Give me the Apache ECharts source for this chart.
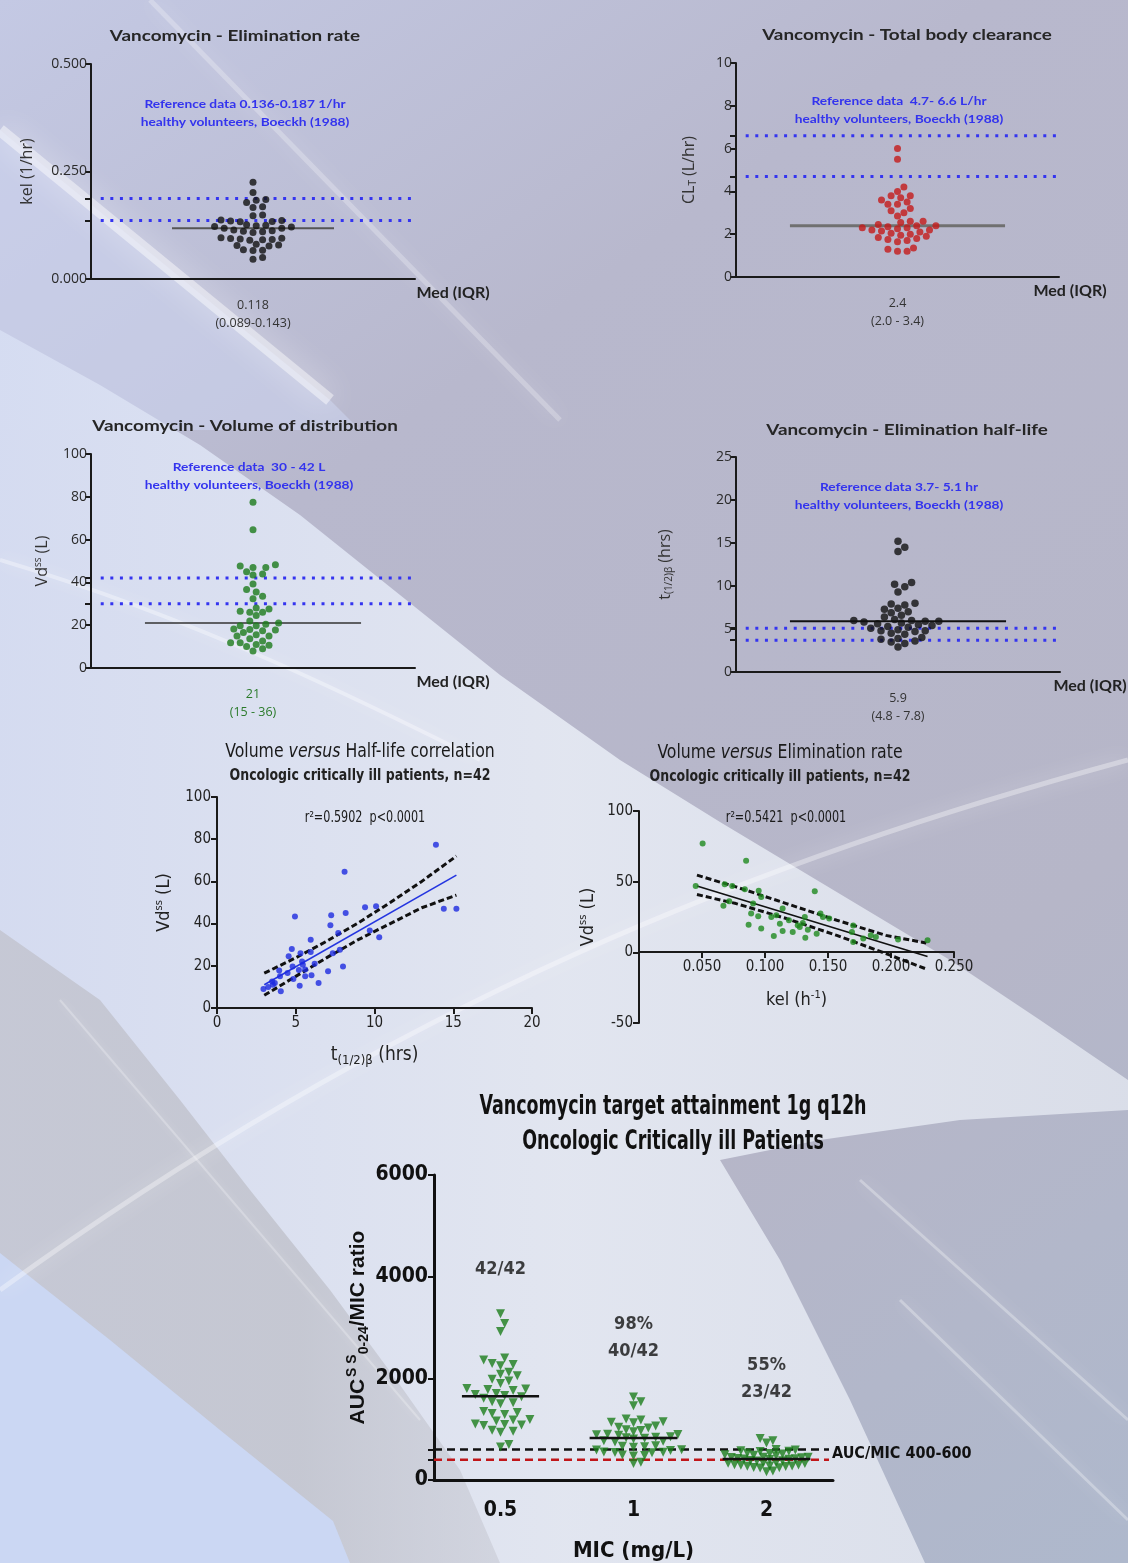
<!DOCTYPE html>
<html><head><meta charset="utf-8">
<script src="https://cdn.jsdelivr.net/npm/echarts@6/dist/echarts.min.js"></script>
<style>html,body{margin:0;padding:0;background:#b8b8cc;}#c{width:1128px;height:1563px;}</style>
</head><body><div id="c"></div>
<script>
// ---------------- DATA ----------------
// Panel 1: elimination rate kel (1/hr), n=42
const kelValues = [0.225,0.201,0.185,0.183,0.178,0.168,0.166,0.149,0.147,0.137,0.136,0.135,0.134,0.133,0.126,0.125,0.124,0.122,0.121,0.118,0.118,0.114,0.112,0.111,0.110,0.108,0.096,0.095,0.094,0.093,0.092,0.091,0.090,0.081,0.079,0.078,0.077,0.068,0.067,0.066,0.050,0.046];
// Panel 2: total body clearance (L/hr)
const clValues = [6.0,5.5,4.2,4.0,3.8,3.8,3.7,3.6,3.5,3.4,3.4,3.2,3.1,3.0,2.85,2.6,2.6,2.55,2.45,2.4,2.4,2.35,2.3,2.3,2.25,2.2,2.2,2.15,2.1,2.05,2.0,1.95,1.9,1.85,1.8,1.75,1.7,1.65,1.35,1.3,1.2,1.2];
// Panel 3: volume of distribution (L)
const vdValues = [77.4,64.6,48.2,47.7,47,47,45,43.9,43.4,39.2,36.7,35.5,33.5,32.4,28,27.6,26.5,26,26,24.5,22,21,20.5,19.7,19.7,18.2,18,17.8,17.4,16.6,15.5,15,15,13.7,12.6,11.8,11.8,11,10.6,10,9,7.9];
// Panel 4: elimination half-life (hrs)
const halfLifeValues = [15.2,14.5,14.0,10.4,10.2,9.9,9.3,8.0,7.9,7.8,7.4,7.3,7.0,6.9,6.6,6.4,6.1,6.0,6.0,5.9,5.9,5.8,5.7,5.6,5.5,5.4,5.3,5.2,5.1,4.9,4.8,4.8,4.7,4.5,4.4,4.0,3.9,3.8,3.6,3.5,3.3,2.9];
// reference ranges (healthy volunteers) and medians
const refKel = [0.136, 0.187];
const refCl = [4.7, 6.6];
const refVd = [30, 42];
const refHalf = [3.7, 5.1];
const medians = [0.118, 2.4, 21, 5.9];
const medianLabels = ['0.118\n(0.089-0.143)', '2.4\n(2.0 - 3.4)', '21\n(15 - 36)', '5.9\n(4.8 - 7.8)'];
// Panel 5: Vd vs half-life
const corrHalfX = [13.9,8.1,4.95,9.4,10.1,14.4,15.2,7.25,8.17,7.2,7.7,9.7,10.3,5.95,4.75,5.95,5.3,4.55,7.35,7.8,4.8,5.45,6.2,8.0,5.4,5.6,3.95,7.05,5.6,6.0,4.0,4.85,3.5,3.67,5.25,6.45,2.95,3.25,4.05,3.55,5.2,4.48];
const corrHalfVd = [77.4,64.6,43.4,47.7,48.2,47,47,43.9,45,39.2,35.5,36.7,33.5,32.4,28,26.5,26,24.5,26,27.6,19.7,20.5,21,19.7,22,18.2,17.8,17.4,15,15.5,15,13.7,12.6,11.8,10.6,11.8,9,10,7.9,11,18,16.6];
const halfFitX = [3, 15.2];
const halfFitY = [11, 63];
const halfBandX = [3, 5, 7, 9, 11, 13, 15.2];
const halfBandUpper = [16.5, 23.8, 31.8, 40.5, 50, 60, 72];
const halfBandLower = [6, 15, 24, 32.5, 40, 47.5, 53.5];
// Panel 6: Vd vs kel
const corrKelX = [0.0505,0.085,0.045,0.068,0.074,0.084,0.095,0.1395,0.097,0.0716,0.067,0.0906,0.089,0.0946,0.114,0.144,0.151,0.1316,0.087,0.097,0.1118,0.114,0.122,0.107,0.126,0.1276,0.134,0.141,0.132,0.17,0.169,0.17,0.178,0.184,0.188,0.2056,0.229,0.119,0.146,0.109,0.13,0.105];
const corrKelVd = [77,64.8,47,48.2,47,44.7,43.5,43.3,39.2,36.2,32.9,34.5,27.4,25.5,31,27.4,23.9,25,19.6,16.8,20.3,15.1,14.4,11.6,19.1,18,16,13.2,10.4,19,14.4,7.3,9.7,12,10.9,9,8.5,22.7,25,26.2,20.8,25];
const kelFitX = [0.046, 0.229];
const kelFitY = [47, -3];
const kelBandX = [0.046, 0.077, 0.117, 0.157, 0.196, 0.228];
const kelBandUpper = [54.6, 46.3, 34.5, 22.7, 12, 6.6];
const kelBandLower = [40.9, 34.5, 23.9, 12, -0.9, -11.8];
// Panel 7: AUC/MIC target attainment
const micCategories = ['0.5', '1', '2'];
const aucMic05 = [3270,3080,2920,2400,2360,2290,2270,2250,2120,2080,2050,1980,1950,1900,1800,1790,1780,1760,1700,1680,1660,1640,1610,1540,1520,1500,1350,1330,1310,1290,1190,1180,1160,1100,1090,1080,1070,980,960,940,700,650];
const aucMic1 = [1635,1540,1460,1200,1180,1145,1135,1125,1060,1040,1025,990,975,950,900,895,890,880,850,840,830,820,805,770,760,750,675,665,655,645,595,590,580,550,545,540,535,490,480,470,350,325];
const aucMic2 = [818,770,730,600,590,573,568,563,530,520,513,495,488,475,450,448,445,440,425,420,415,410,403,385,380,375,338,333,328,323,298,295,290,275,273,270,268,245,240,235,175,163];
const aucMedians = [1650, 825, 412];
const aucTargets = [400, 600];
const aucTicks = [0, 400, 600, 2000, 4000, 6000];
const attainLabels = ['42/42', '98%\n40/42', '55%\n23/42'];
const attainLabelY = [4150, 2800, 1990];

// ---------------- HELPERS ----------------
const F1 = "'Open Sans', Lato, sans-serif";
const FT = "Lato, 'Open Sans', sans-serif";
const NARROW = "'Liberation Sans Narrow','DejaVu Sans Condensed',sans-serif";
const ARIAL = "'Liberation Sans', Arial, sans-serif";

// beeswarm layout: offsets in x-axis units, computed from pixel scales
function swarm(values, pxPerY, pxPerX, diam, step, center) {
  const idx = values.map((v, i) => i).sort((a, b) => values[a] - values[b]);
  const placed = [];
  const out = new Array(values.length);
  for (const i of idx) {
    const py = values[i] * pxPerY;
    let off = 0;
    for (let n = 0; n < 400; n++) {
      const k = Math.ceil(n / 2) * (n % 2 === 1 ? 1 : -1);
      const cand = k * step;
      if (placed.every(p => (p[0] - cand) ** 2 + (p[1] - py) ** 2 >= diam * diam)) { off = cand; break; }
    }
    placed.push([off, py]);
    out[i] = [(center || 0) + off / pxPerX, values[i]];
  }
  return out;
}
const pair = (xs, ys) => xs.map((x, i) => [x, ys[i]]);

const axisCol = '#1a1a1a';
function swarmY(gi, min, max, interval, ref, name, gap, fmt) {
  const ticks = [];
  for (let v = min; v <= max + 1e-9; v += interval) ticks.push(+v.toFixed(6));
  return {
    gridIndex: gi, type: 'value', min, max, interval,
    axisLine: { show: true, onZero: false, lineStyle: { color: axisCol, width: 2 } },
    axisTick: { show: true, length: 6, lineStyle: { color: axisCol, width: 2 }, customValues: ticks.concat(ref) },
    axisLabel: { color: '#2a2a2a', fontSize: 14, fontFamily: F1, margin: 4, formatter: fmt, customValues: ticks },
    splitLine: { show: false },
    name, nameLocation: 'middle', nameGap: gap,
    nameTextStyle: { color: '#333', fontSize: 16, fontFamily: F1,
      rich: { n: { fontSize: 16, fontFamily: F1, color: '#333' },
              sup: { fontSize: 10, fontFamily: F1, color: '#333', padding: [0, 0, 8, 0] },
              sub: { fontSize: 10, fontFamily: F1, color: '#333', padding: [8, 0, 0, 0] } } }
  };
}
function swarmX(gi, label, labelColor, nameGap) {
  return [{
    gridIndex: gi, type: 'category', data: [label], boundaryGap: true,
    axisLine: { onZero: false, lineStyle: { color: axisCol, width: 2 } },
    axisTick: { alignWithLabel: true, length: 6, lineStyle: { color: axisCol, width: 2 } },
    axisLabel: { color: labelColor, fontSize: 12.5, lineHeight: 18, margin: 17, fontFamily: F1 },
    name: 'Med (IQR)', nameLocation: 'end', nameGap,
    nameTextStyle: { align: 'center', verticalAlign: 'top', padding: [6, 0, 0, 0], fontSize: 16, color: '#222', fontWeight: 'bold', fontFamily: FT }
  }, { gridIndex: gi, type: 'value', min: -1, max: 1, show: false }];
}
function refLines(xi, yi, vals) {
  return vals.map(v => ({
    type: 'line', xAxisIndex: xi, yAxisIndex: yi, symbol: 'none', silent: true, z: 3,
    data: [[-0.94, v], [0.99, v]],
    lineStyle: { color: '#3434f0', width: 3, type: [3, 6.6] }
  }));
}
function medLine(xi, yi, v, half, color, width) {
  return { type: 'line', xAxisIndex: xi, yAxisIndex: yi, symbol: 'none', silent: true, z: 4,
    data: [[-half, v], [half, v]], lineStyle: { color, width } };
}

// grid pixel geometry (layout)
const G = [
  { left: 91, top: 64, width: 324, height: 215 },
  { left: 736, top: 63, width: 323, height: 214 },
  { left: 91, top: 454, width: 324, height: 214 },
  { left: 736, top: 457, width: 324, height: 215 },
  { left: 217, top: 797, width: 315, height: 211 },
  { left: 639, top: 811, width: 315, height: 212 },
  { left: 434, top: 1175, width: 399, height: 312 }
];

const sw1 = swarm(kelValues, G[0].height / 0.5, G[0].width / 2, 7, 3.2);
const sw2 = swarm(clValues, G[1].height / 10, G[1].width / 2, 7, 3.2);
const sw3 = swarm(vdValues, G[2].height / 100, G[2].width / 2, 7, 3.2);
const sw4 = swarm(halfLifeValues, G[3].height / 25, G[3].width / 2, 7.5, 3.4);
const pxPerCat = G[6].width / 3, pxPerAuc = G[6].height / 6000;
const swA = swarm(aucMic05, pxPerAuc, pxPerCat, 8.5, 4.2, 0.5);
const swB = swarm(aucMic1, pxPerAuc, pxPerCat, 7.5, 3.7, 1.5);
const swC = swarm(aucMic2, pxPerAuc, pxPerCat, 6, 3.2, 2.5);

// ---------------- AXES ----------------
const vdName = { n: { fontSize: 18, fontFamily: NARROW, color: '#222' }, sup: { fontSize: 11, fontFamily: NARROW, color: '#222', padding: [0, 0, 10, 0] } };
const xAxes = [].concat(
  swarmX(0, medianLabels[0], '#333', 38),
  swarmX(1, medianLabels[1], '#333', 11),
  swarmX(2, medianLabels[2], '#2a7a2a', 38),
  swarmX(3, medianLabels[3], '#333', 30),
  [{ gridIndex: 4, type: 'value', min: 0, max: 20, interval: 5,
     axisLine: { onZero: false, lineStyle: { color: axisCol, width: 2 } },
     axisTick: { length: 6, lineStyle: { color: axisCol, width: 2 } },
     axisLabel: { color: '#222', fontSize: 15, fontFamily: NARROW, margin: 8 },
     splitLine: { show: false },
     name: '{n|t}{sub|(1/2)β}{n| (hrs)}', nameLocation: 'middle', nameGap: 36,
     nameTextStyle: { rich: { n: { fontSize: 19, fontFamily: NARROW, color: '#222' }, sub: { fontSize: 13, fontFamily: NARROW, color: '#222', padding: [10, 0, 0, 0] } } } },
   { gridIndex: 5, type: 'value', min: 0, max: 0.25, interval: 0.05, offset: -71,
     axisLine: { onZero: false, lineStyle: { color: axisCol, width: 2 } },
     axisTick: { length: 6, lineStyle: { color: axisCol, width: 2 } },
     axisLabel: { color: '#222', fontSize: 15, fontFamily: NARROW, margin: 8, formatter: v => v === 0 ? '' : v.toFixed(3) },
     splitLine: { show: false },
     name: '{n|kel (h}{sup|-1}{n|)}', nameLocation: 'middle', nameGap: 38,
     nameTextStyle: { rich: vdName } },
   { gridIndex: 6, type: 'category', data: micCategories, boundaryGap: true,
     axisLine: { onZero: false, lineStyle: { color: '#111', width: 3 } },
     axisTick: { alignWithLabel: true, length: 5, lineStyle: { color: '#111', width: 2 } },
     axisLabel: { color: '#111', fontSize: 21, fontWeight: 'bold', fontFamily: NARROW, margin: 20 },
     name: 'MIC (mg/L)', nameLocation: 'middle', nameGap: 60,
     nameTextStyle: { color: '#111', fontSize: 22, fontWeight: 'bold', fontFamily: NARROW } },
   { gridIndex: 6, type: 'value', min: 0, max: 3, show: false }]
);

const yAxes = [
  swarmY(0, 0, 0.5, 0.25, refKel, 'kel (1/hr)', 56, v => v.toFixed(3)),
  swarmY(1, 0, 10, 2, refCl, '{n|CL}{sub|T}{n| (L/hr)}', 38),
  swarmY(2, 0, 100, 20, refVd, '{n|Vd}{sup|ss}{n| (L)}', 40),
  swarmY(3, 0, 25, 5, refHalf, '{n|t}{sub|(1/2)β}{n| (hrs)}', 62),
  { gridIndex: 4, type: 'value', min: 0, max: 100, interval: 20,
    axisLine: { show: true, onZero: false, lineStyle: { color: axisCol, width: 2 } },
    axisTick: { show: true, length: 6, lineStyle: { color: axisCol, width: 2 } },
    axisLabel: { color: '#222', fontSize: 15, fontFamily: NARROW, margin: 6 },
    splitLine: { show: false },
    name: '{n|Vd}{sup|ss}{n| (L)}', nameLocation: 'middle', nameGap: 42,
    nameTextStyle: { rich: vdName } },
  { gridIndex: 5, type: 'value', min: -50, max: 100, interval: 50,
    axisLine: { show: true, onZero: false, lineStyle: { color: axisCol, width: 2 } },
    axisTick: { show: true, length: 6, lineStyle: { color: axisCol, width: 2 } },
    axisLabel: { color: '#222', fontSize: 15, fontFamily: NARROW, margin: 6 },
    splitLine: { show: false },
    name: '{n|Vd}{sup|ss}{n| (L)}', nameLocation: 'middle', nameGap: 40,
    nameTextStyle: { rich: vdName } },
  { gridIndex: 6, type: 'value', min: 0, max: 6000, interval: 2000,
    axisLine: { show: true, onZero: false, lineStyle: { color: '#111', width: 3 } },
    axisTick: { show: true, length: 6, lineStyle: { color: '#111', width: 2 }, customValues: aucTicks },
    axisLabel: { color: '#111', fontSize: 21, fontWeight: 'bold', fontFamily: NARROW, margin: 6, formatter: v => String(v), customValues: [0, 2000, 4000, 6000] },
    splitLine: { show: false },
    name: '{n|AUC}{sup|S S}{sub|0-24}{n|/MIC ratio}', nameLocation: 'middle', nameGap: 58,
    nameTextStyle: { rich: {
      n: { fontSize: 21, fontWeight: 'bold', fontFamily: ARIAL, color: '#111' },
      sup: { fontSize: 14, fontWeight: 'bold', fontFamily: ARIAL, color: '#111', padding: [0, 0, 12, 2] },
      sub: { fontSize: 14, fontWeight: 'bold', fontFamily: ARIAL, color: '#111', padding: [12, 0, 0, 0] } } } }
];

// ---------------- SERIES ----------------
const dot = (xi, yi, data, color, size) => ({ type: 'scatter', xAxisIndex: xi, yAxisIndex: yi, data, symbolSize: size, itemStyle: { color }, z: 5, silent: true });
const lineS = (xi, yi, data, color, width, type, z) => ({ type: 'line', xAxisIndex: xi, yAxisIndex: yi, data, symbol: 'none', silent: true, z: z || 4, lineStyle: { color, width, type: type || 'solid' } });

const series = [].concat(
  refLines(1, 0, refKel), [medLine(1, 0, medians[0], 0.5, '#555', 2), dot(1, 0, sw1, '#111', 7)],
  refLines(3, 1, refCl), [medLine(3, 1, medians[1], 0.666, '#707070', 3), dot(3, 1, sw2, '#c41a1a', 7)],
  refLines(5, 2, refVd), [medLine(5, 2, medians[2], 0.667, '#333', 1.6), dot(5, 2, sw3, '#1c7a1c', 7)],
  refLines(7, 3, refHalf), [medLine(7, 3, medians[3], 0.667, '#111', 2), dot(7, 3, sw4, '#111', 7.5)],
  [
    dot(8, 4, pair(corrHalfX, corrHalfVd), '#1d2be0', 6),
    lineS(8, 4, pair(halfFitX, halfFitY), '#2435e0', 1.6),
    lineS(8, 4, pair(halfBandX, halfBandUpper), '#111', 3, [6, 3]),
    lineS(8, 4, pair(halfBandX, halfBandLower), '#111', 3, [6, 3]),
    dot(9, 5, pair(corrKelX, corrKelVd), '#1e8a1e', 6),
    lineS(9, 5, pair(kelFitX, kelFitY), '#111', 1.6),
    lineS(9, 5, pair(kelBandX, kelBandUpper), '#111', 3, [6, 3]),
    lineS(9, 5, pair(kelBandX, kelBandLower), '#111', 3, [6, 3]),
    // AUC/MIC panel
    { type: 'scatter', xAxisIndex: 11, yAxisIndex: 6, data: swA.concat(swB, swC), symbol: 'triangle', symbolRotate: 180,
      symbolSize: 9, itemStyle: { color: '#1c7d1c' }, z: 5, silent: true },
    lineS(11, 6, [[0.5 - 0.29, aucMedians[0]], [0.5 + 0.29, aucMedians[0]]], '#111', 2.5, 'solid', 6),
    lineS(11, 6, [[1.5 - 0.33, aucMedians[1]], [1.5 + 0.33, aucMedians[1]]], '#111', 2.5, 'solid', 6),
    lineS(11, 6, [[2.5 - 0.33, aucMedians[2]], [2.5 + 0.33, aucMedians[2]]], '#111', 2.5, 'solid', 6),
    Object.assign(lineS(11, 6, [[0, aucTargets[1]], [2.97, aucTargets[1]]], '#111', 2.5, [8, 5], 4), {
      endLabel: { show: true, formatter: 'AUC/MIC 400-600', color: '#111', fontSize: 16, fontWeight: 'bold', fontFamily: NARROW, distance: 3, offset: [0, 4] } }),
    lineS(11, 6, [[0, aucTargets[0]], [2.97, aucTargets[0]]], '#c0161a', 2.5, [8, 5], 4),
    { type: 'scatter', xAxisIndex: 11, yAxisIndex: 6, symbolSize: 1, silent: true, z: 6,
      itemStyle: { color: 'rgba(0,0,0,0)' },
      data: attainLabels.map((t, i) => ({ name: t, value: [i + 0.5, attainLabelY[i]] })),
      label: { show: true, position: 'inside', formatter: '{b}', color: '#111', fontSize: 18, lineHeight: 27, fontWeight: 'bold', fontFamily: NARROW } }
  ]
);

// ---------------- TEXTS & BACKGROUND ----------------
const txt = (x, y, text, style, sx) => ({ type: 'text', x, y, z: 50, silent: true, scaleX: sx || 1,
  style: Object.assign({ text, align: 'center', verticalAlign: 'middle', fill: '#222' }, style) });
const refStyle = { fill: '#3333ee', fontSize: 11, fontWeight: 'bold', fontFamily: FT, lineHeight: 18 };
const titleStyle = { fill: '#262626', fontSize: 16, fontWeight: 'bold', fontFamily: FT };
const versusRich = { n: { fontSize: 19, fontFamily: NARROW, fill: '#1a1a1a' }, i: { fontSize: 19, fontFamily: NARROW, fontStyle: 'italic', fill: '#1a1a1a' } };
const subStyle = { fill: '#222', fontSize: 15, fontWeight: 'bold', fontFamily: NARROW };

const poly = (points, fill, z) => ({ type: 'polygon', z: z, silent: true, shape: { points }, style: { fill } });
const streak = (x1, y1, x2, y2, alpha, w, blur) => ({ type: 'line', z: -95, silent: true, shape: { x1, y1, x2, y2 },
  style: { stroke: 'rgba(255,255,255,' + alpha + ')', lineWidth: w, shadowBlur: blur || 16, shadowColor: '#ffffff' } });

const bg = [
  { type: 'rect', z: -100, silent: true, shape: { x: 0, y: 0, width: 1128, height: 1563 },
    style: { fill: new echarts.graphic.LinearGradient(0, 0, 1, 1, [
      { offset: 0, color: '#c4c9e4' }, { offset: 0.3, color: '#b8b8cd' }, { offset: 0.7, color: '#b6b6c8' }, { offset: 1, color: '#aeb8cc' }]) } },
  poly([[0,130],[330,400],[360,430],[0,430]], 'rgba(206,214,240,0.55)', -99),
  poly([[0,330],[100,385],[200,445],[300,515],[400,595],[500,675],[620,760],[720,822],[800,870],[880,918],[950,960],[1040,1020],[1128,1080],
        [1128,1110],[960,1120],[820,1140],[720,1160],[780,1260],[850,1400],[925,1563],[0,1563]],
    new echarts.graphic.LinearGradient(0, 0, 1, 0, [
      { offset: 0, color: 'rgba(214,221,242,0.95)' }, { offset: 0.5, color: 'rgba(228,232,242,0.95)' }, { offset: 1, color: 'rgba(222,226,236,0.9)' }]), -98),
  poly([[0,930],[100,1000],[180,1100],[250,1190],[330,1290],[400,1385],[460,1470],[500,1563],[0,1563]],
    new echarts.graphic.LinearGradient(1, 0, 0, 0, [
      { offset: 0, color: 'rgba(200,202,212,0.6)' }, { offset: 0.4, color: 'rgba(194,196,206,0.88)' }, { offset: 1, color: 'rgba(196,198,210,0.9)' }]), -97),
  poly([[0,1253],[110,1340],[220,1430],[333,1521],[350,1563],[0,1563]], '#cbd7f3', -96),
  { type: 'bezierCurve', z: -95, silent: true,
    shape: { x1: 0, y1: 1290, cpx1: 400, cpy1: 1000, cpx2: 760, cpy2: 860, x2: 1128, y2: 760 },
    style: { fill: null, stroke: 'rgba(255,255,255,0.35)', lineWidth: 5, shadowBlur: 20, shadowColor: '#ffffff' } },
  { type: 'bezierCurve', z: -95, silent: true,
    shape: { x1: 0, y1: 560, cpx1: 200, cpy1: 620, cpx2: 360, cpy2: 700, x2: 480, y2: 760 },
    style: { fill: null, stroke: 'rgba(255,255,255,0.35)', lineWidth: 4, shadowBlur: 16, shadowColor: '#ffffff' } },
  streak(0, 130, 330, 400, 0.45, 12, 30),
  streak(150, 0, 560, 420, 0.25, 5, 20),
  streak(60, 1000, 420, 1420, 0.25, 2, 8),
  streak(860, 1180, 1128, 1420, 0.3, 3),
  streak(900, 1300, 1128, 1520, 0.3, 3)
];

const texts = [
  txt(235, 36, 'Vancomycin - Elimination rate', titleStyle, 1.18),
  txt(907, 35, 'Vancomycin - Total body clearance', titleStyle, 1.18),
  txt(245, 426, 'Vancomycin - Volume of distribution', titleStyle, 1.18),
  txt(907, 430, 'Vancomycin - Elimination half-life', titleStyle, 1.18),
  txt(245, 113, 'Reference data 0.136-0.187 1/hr\nhealthy volunteers, Boeckh (1988)', refStyle, 1.25),
  txt(899, 110, 'Reference data  4.7- 6.6 L/hr\nhealthy volunteers, Boeckh (1988)', refStyle, 1.25),
  txt(249, 476, 'Reference data  30 - 42 L\nhealthy volunteers, Boeckh (1988)', refStyle, 1.25),
  txt(899, 496, 'Reference data 3.7- 5.1 hr\nhealthy volunteers, Boeckh (1988)', refStyle, 1.25),
  txt(360, 752, '{n|Volume }{i|versus}{n| Half-life correlation}', { rich: versusRich }, 0.92),
  txt(360, 776, 'Oncologic critically ill patients, n=42', subStyle, 0.93),
  txt(780, 753, '{n|Volume }{i|versus}{n| Elimination rate}', { rich: versusRich }, 0.92),
  txt(780, 777, 'Oncologic critically ill patients, n=42', subStyle, 0.93),
  txt(365, 818, 'r²=0.5902  p<0.0001', { fontSize: 15, fontFamily: NARROW, fill: '#1a1a1a' }, 0.83),
  txt(786, 818, 'r²=0.5421  p<0.0001', { fontSize: 15, fontFamily: NARROW, fill: '#1a1a1a' }, 0.83),
  txt(673, 1107, 'Vancomycin target attainment 1g q12h', { fontSize: 27, fontWeight: 'bold', fontFamily: NARROW, fill: '#111' }, 0.72),
  txt(673, 1142, 'Oncologic Critically ill Patients', { fontSize: 27, fontWeight: 'bold', fontFamily: NARROW, fill: '#111' }, 0.72)
];

const chart = echarts.init(document.getElementById('c'), null, { renderer: 'canvas' });
chart.setOption({
  animation: false,
  grid: G.map(g => Object.assign({ containLabel: false }, g)),
  xAxis: xAxes,
  yAxis: yAxes,
  series,
  graphic: { elements: bg.concat(texts) }
});
</script>
</body></html>
